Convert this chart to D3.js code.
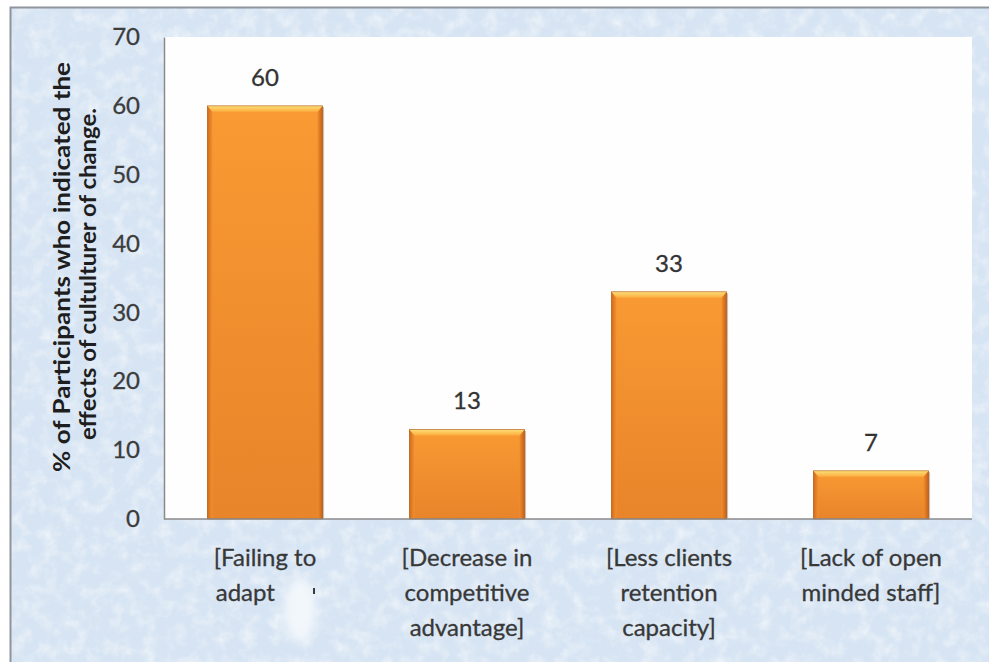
<!DOCTYPE html>
<html>
<head>
<meta charset="utf-8">
<script src="https://cdn.jsdelivr.net/npm/d3@7"></script>
<style>
  html, body { margin: 0; padding: 0; background: #ffffff; }
  svg { display: block; }
  text { font-family: Lato, "Open Sans", "Liberation Sans", sans-serif; }
</style>
</head>
<body>
<svg id="chart" width="989" height="662"></svg>
<script>
// Effects of culture of change: share of participants per effect
const categories = [
  ["[Failing to", "adapt"],
  ["[Decrease in", "competitive", "advantage]"],
  ["[Less clients", "retention", "capacity]"],
  ["[Lack of open", "minded staff]"]
];
const values = [60, 13, 33, 7];
const yTicks = [0, 10, 20, 30, 40, 50, 60, 70];
const yTitle = ["% of Participants who indicated the", "effects of cultulturer of change."];

const W = 989, H = 662;
const plot = { left: 164, right: 972, top: 37, bottom: 519 };

const svg = d3.select("#chart");
const defs = svg.append("defs");

// fine mottled paper texture for the frame
const mottle = defs.append("filter").attr("id", "mottle")
  .attr("x", 0).attr("y", 0).attr("width", "100%").attr("height", "100%");
mottle.append("feTurbulence").attr("type", "fractalNoise")
  .attr("baseFrequency", "0.07").attr("numOctaves", 4).attr("seed", 7);
mottle.append("feColorMatrix").attr("type", "matrix")
  .attr("values", "0 0 0 0 1  0 0 0 0 1  0 0 0 0 1  0 0 0 1.8 -0.75");

const speck = defs.append("filter").attr("id", "speck")
  .attr("x", 0).attr("y", 0).attr("width", "100%").attr("height", "100%");
speck.append("feTurbulence").attr("type", "fractalNoise")
  .attr("baseFrequency", "0.18").attr("numOctaves", 2).attr("seed", 3);
speck.append("feColorMatrix").attr("type", "matrix")
  .attr("values", "0 0 0 0 0.66  0 0 0 0 0.76  0 0 0 0 0.88  0 0 0 2.0 -1.05");

const soft = defs.append("filter").attr("id", "soft")
  .attr("x", "-60%").attr("y", "-60%").attr("width", "220%").attr("height", "220%");
soft.append("feGaussianBlur").attr("stdDeviation", 5);

// bar gradients
const body = defs.append("linearGradient").attr("id", "barBody")
  .attr("x1", 0).attr("y1", 0).attr("x2", 0).attr("y2", 1);
body.append("stop").attr("offset", "0%").attr("stop-color", "#f99a33");
body.append("stop").attr("offset", "100%").attr("stop-color", "#e8842a");

const topBevel = defs.append("linearGradient").attr("id", "barTop")
  .attr("x1", 0).attr("y1", 0).attr("x2", 0).attr("y2", 1);
topBevel.append("stop").attr("offset", "0%").attr("stop-color", "#fde07a");
topBevel.append("stop").attr("offset", "100%").attr("stop-color", "#fbac3c");

const sideL = defs.append("linearGradient").attr("id", "barLeft")
  .attr("x1", 0).attr("y1", 0).attr("x2", 1).attr("y2", 0);
sideL.append("stop").attr("offset", "0%").attr("stop-color", "#d06c1c");
sideL.append("stop").attr("offset", "100%").attr("stop-color", "#f3902e");

const sideR = defs.append("linearGradient").attr("id", "barRight")
  .attr("x1", 0).attr("y1", 0).attr("x2", 1).attr("y2", 0);
sideR.append("stop").attr("offset", "0%").attr("stop-color", "#f18c2c");
sideR.append("stop").attr("offset", "100%").attr("stop-color", "#c2611a");

// frame background
svg.append("rect").attr("x", 10).attr("y", 7).attr("width", W - 10).attr("height", H - 7)
  .attr("fill", "#d6e4f3");
svg.append("rect").attr("x", 10).attr("y", 7).attr("width", W - 10).attr("height", H - 7)
  .attr("filter", "url(#mottle)").attr("opacity", 0.6);
svg.append("rect").attr("x", 10).attr("y", 7).attr("width", W - 10).attr("height", H - 7)
  .attr("filter", "url(#speck)").attr("opacity", 0.5);
svg.append("path").attr("d", `M10.5,${H} V7.5 H${W}`)
  .attr("fill", "none").attr("stroke", "#8d949c").attr("stroke-width", 2);

// plot area
svg.append("rect")
  .attr("x", plot.left).attr("y", plot.top)
  .attr("width", plot.right - plot.left).attr("height", plot.bottom - plot.top)
  .attr("fill", "#fefefe");

const x = d3.scaleBand()
  .domain(d3.range(values.length))
  .range([plot.left, plot.right])
  .paddingInner(0.43)
  .paddingOuter(0.215);

const y = d3.scaleLinear().domain([0, 70]).range([plot.bottom, plot.top]);

// y axis
const yAxis = svg.append("g")
  .attr("transform", `translate(${plot.left},0)`)
  .call(d3.axisLeft(y).tickValues(yTicks).tickSize(0).tickPadding(24).tickFormat(d3.format("d")));
yAxis.select(".domain").attr("stroke", "#8a8a8a").attr("stroke-width", 1.5);
yAxis.selectAll("text")
  .attr("font-size", 24).attr("fill", "#3c3c3c")
  .attr("stroke", "#3c3c3c").attr("stroke-width", 0.3)
  .style("font-family", "Lato, 'Open Sans', sans-serif");

// bars with bevelled faces
const bev = 6, side = 5;
const bars = svg.append("g").selectAll("g").data(values).join("g");
bars.each(function (v, i) {
  const g = d3.select(this);
  const x0 = x(i), x1 = x(i) + x.bandwidth();
  const y0 = y(v), y1 = y(0);
  g.append("rect").attr("x", x0 + 1.5).attr("y", y0 + 1.5)
    .attr("width", x1 - x0).attr("height", y1 - y0 - 1.5)
    .attr("fill", "#7a4a20").attr("opacity", 0.35);
  g.append("rect").attr("x", x0).attr("y", y0)
    .attr("width", x1 - x0).attr("height", y1 - y0)
    .attr("fill", "url(#barBody)");
  g.append("polygon")
    .attr("points", [[x0, y0], [x0 + side, y0 + bev], [x0 + side, y1], [x0, y1]].join(" "))
    .attr("fill", "url(#barLeft)");
  g.append("polygon")
    .attr("points", [[x1, y0], [x1 - side, y0 + bev], [x1 - side, y1], [x1, y1]].join(" "))
    .attr("fill", "url(#barRight)");
  g.append("polygon")
    .attr("points", [[x0, y0], [x1, y0], [x1 - side, y0 + bev], [x0 + side, y0 + bev]].join(" "))
    .attr("fill", "url(#barTop)");
  g.append("rect").attr("x", x0).attr("y", y0)
    .attr("width", x1 - x0).attr("height", y1 - y0)
    .attr("fill", "none").attr("stroke", "#a8581a").attr("stroke-width", 0.8).attr("opacity", 0.7);
});

// baseline
svg.append("line")
  .attr("x1", plot.left).attr("x2", plot.right)
  .attr("y1", y(0)).attr("y2", y(0))
  .attr("stroke", "#8a8a8a").attr("stroke-width", 1.5);

// value labels
svg.append("g").selectAll("text").data(values).join("text")
  .attr("x", (d, i) => x(i) + x.bandwidth() / 2)
  .attr("y", d => y(d) - 20)
  .attr("text-anchor", "middle")
  .attr("font-size", 24).attr("fill", "#333333")
  .attr("stroke", "#333333").attr("stroke-width", 0.3)
  .text(d => d);

// category labels; the short second line of the first label keeps the first line's left edge
const catG = svg.append("g");
categories.forEach((lines, i) => {
  const cx = x(i) + x.bandwidth() / 2;
  const t = catG.append("text")
    .attr("font-size", 24).attr("fill", "#383838")
    .attr("stroke", "#383838").attr("stroke-width", 0.3)
    .attr("text-anchor", "middle");
  const spans = lines.map((ln, k) =>
    t.append("tspan").attr("x", cx).attr("y", 566 + k * 35).text(ln));
  if (i === 0) {
    const w0 = spans[0].node().getComputedTextLength();
    spans[1].attr("text-anchor", "start").attr("x", cx - w0 / 2 + 2);
  }
});

// faded patch after the end of the first label
svg.append("ellipse").attr("cx", 300).attr("cy", 610).attr("rx", 16).attr("ry", 32)
  .attr("fill", "#f2f7fb").attr("filter", "url(#soft)");
svg.append("line").attr("x1", 314).attr("x2", 314).attr("y1", 588).attr("y2", 594)
  .attr("stroke", "#3a3a3a").attr("stroke-width", 2);

// y axis title
const titleLen = [410, 332];
const titleCy = [267, 274];
yTitle.forEach((ln, k) => {
  svg.append("text")
    .attr("transform", `translate(${70 + k * 26},${titleCy[k]}) rotate(-90)`)
    .attr("text-anchor", "middle")
    .attr("font-size", 23).attr("font-weight", "bold").attr("fill", "#1e1e1e")
    .attr("textLength", titleLen[k]).attr("lengthAdjust", "spacingAndGlyphs")
    .text(ln);
});
</script>
</body>
</html>
